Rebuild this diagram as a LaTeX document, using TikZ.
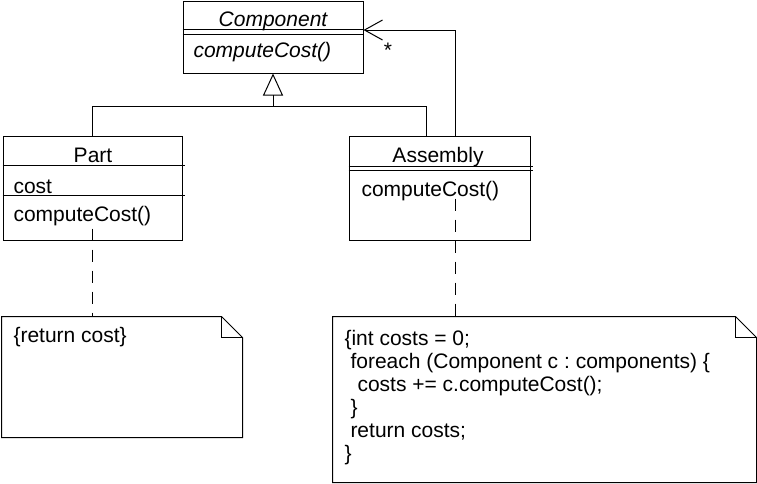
\documentclass[tikz,border=0pt]{standalone}
\usepackage{fontspec}
\setmainfont{Liberation Sans}
\usetikzlibrary{arrows.meta}
\frenchspacing
\begin{document}
\begin{tikzpicture}[x=1pt,y=1pt,line width=1pt,
  box/.style={draw,rectangle,inner sep=0pt},
  area/.style={rectangle,inner sep=0pt},
  txt/.style={inner sep=0pt,font=\fontsize{21}{23}\selectfont},
  itxt/.style={inner sep=0pt,font=\fontsize{21}{23}\selectfont\itshape},
  gen/.style={-{Triangle[open,length=22pt,width=20pt]}},
  agg/.style={-{Straight Barb[length=18pt,width=20pt]}},
  notelink/.style={dash pattern=on 12pt off 9pt}]
\useasboundingbox (0,0) rectangle (757,-483);

% classes
\node[box,minimum width=180pt,minimum height=72pt] (comp) at (273,-37) {};
\node[box,minimum width=179pt,minimum height=104pt] (part) at (92.5,-188) {};
\node[box,minimum width=181pt,minimum height=104pt] (asm) at (439.5,-188) {};

% compartment dividers
\draw ([yshift=-29pt]comp.north west) -- ([yshift=-29pt]comp.north east);
\draw ([yshift=-33.5pt]comp.north west) -- ([yshift=-33.5pt]comp.north east);
\draw ([yshift=-30pt]part.north west) -- ([shift={(2pt,-30pt)}]part.north east);
\draw ([yshift=-60pt]part.north west) -- ([shift={(2pt,-60pt)}]part.north east);
\draw ([yshift=-31pt]asm.north west) -- ([shift={(2pt,-31pt)}]asm.north east);
\draw ([yshift=-35pt]asm.north west) -- ([shift={(2pt,-35pt)}]asm.north east);

% class texts
\node[itxt,anchor=base] (compname) at (273,-26) {Component};
\node[itxt,anchor=base west] (compop) at (193,-57) {computeCost()};
\node[txt,anchor=base] (partname) at (93,-162) {Part};
\node[txt,anchor=base west] (partattr) at (13,-193) {cost};
\node[txt,anchor=base west] (partop) at (13,-221) {computeCost()};
\node[txt,anchor=base] (asmname) at (438,-162) {Assembly};
\node[txt,anchor=base west] (asmop) at (361,-196) {computeCost()};

% generalization
\coordinate (gj) at (273,-106);
\draw (part.north) |- (gj);
\draw ([xshift=-13.5pt]asm.north) |- (gj);
\draw[gen] (gj) -- (comp.south);

% aggregation
\draw[agg] ([xshift=15.5pt]asm.north) |- ([yshift=7pt]comp.east);
\node[txt,anchor=base] (mult) at (388,-57) {*};

% notes
\node[area,minimum width=240pt,minimum height=120pt] (note1) at (122,-377) {};
\node[area,minimum width=423pt,minimum height=165pt] (note2) at (544.5,-399.5) {};
\foreach \n in {note1,note2}{
  \draw (\n.north west) -- ([xshift=-21pt]\n.north east)
        -- ([yshift=-21pt]\n.north east) -- (\n.south east)
        -- (\n.south west) -- cycle;
  \draw ([xshift=-21pt]\n.north east) |- ([yshift=-21pt]\n.north east);
}

\node[txt,anchor=base west] (n1l1) at (13,-342) {\{return cost\}};
\node[txt,anchor=base west] (n2l1) at (344,-345) {\{int costs = 0;};
\node[txt,anchor=base west] (n2l2) at (350,-368) {foreach (Component c : components) \{};
\node[txt,anchor=base west] (n2l3) at (357,-391) {costs += c.computeCost();};
\node[txt,anchor=base west] (n2l4) at (350,-414) {\}};
\node[txt,anchor=base west] (n2l5) at (350,-437) {return costs;};
\node[txt,anchor=base west] (n2l6) at (344,-460) {\}};

% note attachments
\draw[notelink] ([yshift=12pt]part.south) -- (part.south |- note1.north);
\draw[notelink] ([shift={(15.5pt,42pt)}]asm.south) -- ([xshift=15.5pt]asm.south |- note2.north);
\end{tikzpicture}
\end{document}
